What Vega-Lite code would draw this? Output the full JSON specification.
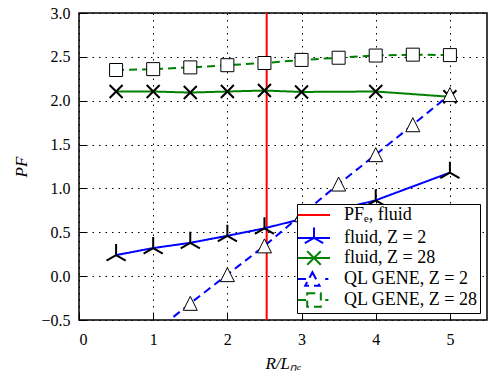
{
  "$schema": "https://vega.github.io/schema/vega-lite/v6.json",
  "width": 408,
  "height": 307,
  "autosize": {"type": "none"},
  "padding": {"left": 79, "top": 13, "right": 2, "bottom": 57},
  "background": "white",
  "config": {
    "font": "Liberation Serif",
    "view": {"stroke": "black", "strokeWidth": 1.5},
    "axis": {
      "labelFont": "Liberation Serif",
      "labelFontSize": 16,
      "labelColor": "black",
      "titleFont": "Liberation Serif",
      "titleFontSize": 17,
      "titleFontWeight": "normal",
      "titleFontStyle": "italic",
      "titleColor": "black",
      "grid": true,
      "gridColor": "black",
      "gridDash": [1.5, 5],
      "gridWidth": 1,
      "domain": false,
      "tickColor": "black",
      "tickSize": -7,
      "tickWidth": 1
    },
    "legend": {
      "labelFont": "Liberation Serif",
      "labelFontSize": 18,
      "labelColor": "black"
    }
  },
  "datasets": {
    "pts": [
      {"series": "PFₑ, fluid", "x": 2.53, "y": null},
      {"series": "fluid, Z = 2", "x": 0.5, "y": 0.24},
      {"series": "fluid, Z = 2", "x": 1.0, "y": 0.32},
      {"series": "fluid, Z = 2", "x": 1.5, "y": 0.38},
      {"series": "fluid, Z = 2", "x": 2.0, "y": 0.46},
      {"series": "fluid, Z = 2", "x": 2.5, "y": 0.545},
      {"series": "fluid, Z = 2", "x": 4.0, "y": 0.865},
      {"series": "fluid, Z = 2", "x": 5.0, "y": 1.18},
      {"series": "fluid, Z = 28", "x": 0.5, "y": 2.105},
      {"series": "fluid, Z = 28", "x": 1.0, "y": 2.105},
      {"series": "fluid, Z = 28", "x": 1.5, "y": 2.093},
      {"series": "fluid, Z = 28", "x": 2.0, "y": 2.105},
      {"series": "fluid, Z = 28", "x": 2.5, "y": 2.116},
      {"series": "fluid, Z = 28", "x": 3.0, "y": 2.1},
      {"series": "fluid, Z = 28", "x": 4.0, "y": 2.105},
      {"series": "fluid, Z = 28", "x": 5.0, "y": 2.045},
      {"series": "QL GENE, Z = 2", "x": 1.0, "y": -0.65},
      {"series": "QL GENE, Z = 2", "x": 1.5, "y": -0.31},
      {"series": "QL GENE, Z = 2", "x": 2.0, "y": 0.017},
      {"series": "QL GENE, Z = 2", "x": 2.5, "y": 0.345},
      {"series": "QL GENE, Z = 2", "x": 3.0, "y": 0.7},
      {"series": "QL GENE, Z = 2", "x": 3.5, "y": 1.05},
      {"series": "QL GENE, Z = 2", "x": 4.0, "y": 1.385},
      {"series": "QL GENE, Z = 2", "x": 4.5, "y": 1.726},
      {"series": "QL GENE, Z = 2", "x": 5.0, "y": 2.07},
      {"series": "QL GENE, Z = 28", "x": 0.5, "y": 2.35},
      {"series": "QL GENE, Z = 28", "x": 1.0, "y": 2.36},
      {"series": "QL GENE, Z = 28", "x": 1.5, "y": 2.38},
      {"series": "QL GENE, Z = 28", "x": 2.0, "y": 2.405},
      {"series": "QL GENE, Z = 28", "x": 2.5, "y": 2.43},
      {"series": "QL GENE, Z = 28", "x": 3.0, "y": 2.465},
      {"series": "QL GENE, Z = 28", "x": 3.5, "y": 2.49},
      {"series": "QL GENE, Z = 28", "x": 4.0, "y": 2.515},
      {"series": "QL GENE, Z = 28", "x": 4.5, "y": 2.525},
      {"series": "QL GENE, Z = 28", "x": 5.0, "y": 2.52}
    ]
  },
  "data": {"name": "pts"},
  "encoding": {
    "x": {
      "field": "x",
      "type": "quantitative",
      "scale": {"domain": [0, 5.5], "nice": false, "zero": false},
      "axis": {"values": [0, 1, 2, 3, 4, 5], "format": "d", "labelPadding": 18, "titlePadding": 8, "title": "R/Lₙₑ", "labelFont": "Liberation Serif"}
    },
    "y": {
      "field": "y",
      "type": "quantitative",
      "scale": {"domain": [-0.5, 3.0], "nice": false, "zero": false},
      "axis": {"values": [-0.5, 0, 0.5, 1, 1.5, 2, 2.5, 3], "format": ".1f", "labelPadding": 16, "titlePadding": 10, "title": "PF", "labelFont": "Liberation Serif"}
    }
  },
  "layer": [
    {
      "transform": [{"filter": "datum.series === 'PFₑ, fluid'"}],
      "mark": {"type": "rule", "color": "#ff0000", "strokeWidth": 2},
      "encoding": {"x": {"field": "x", "type": "quantitative"}, "y": null}
    },
    {
      "transform": [{"filter": "datum.series !== 'PFₑ, fluid'"}],
      "mark": {"type": "line", "strokeWidth": 2, "clip": true},
      "encoding": {
        "color": {
          "field": "series", "type": "nominal",
          "scale": {
            "domain": ["PFₑ, fluid", "fluid, Z = 2", "fluid, Z = 28", "QL GENE, Z = 2", "QL GENE, Z = 28"],
            "range": ["#ff0000", "#0000ff", "#008000", "#0000ff", "#008000"]
          }
        },
        "strokeDash": {
          "field": "series", "type": "nominal",
          "scale": {
            "domain": ["PFₑ, fluid", "fluid, Z = 2", "fluid, Z = 28", "QL GENE, Z = 2", "QL GENE, Z = 28"],
            "range": [[1, 0], [1, 0], [1, 0], [8, 5], [8, 5]]
          },
          "legend": null
        }
      }
    },
    {
      "transform": [{"filter": "datum.series === 'fluid, Z = 2'"}],
      "mark": {"type": "point", "shape": "M0,0V-1M0,0L-0.87,0.5M0,0L0.87,0.5", "size": 484, "filled": false, "stroke": "black", "strokeWidth": 2, "opacity": 1, "clip": true}
    },
    {
      "transform": [{"filter": "datum.series === 'fluid, Z = 28'"}],
      "mark": {"type": "point", "shape": "M-1,-1L1,1M-1,1L1,-1", "size": 169, "filled": false, "stroke": "black", "strokeWidth": 2, "opacity": 1, "clip": true}
    },
    {
      "transform": [{"filter": "datum.series === 'QL GENE, Z = 2'"}],
      "mark": {"type": "point", "shape": "M0,-1L1,1L-1,1Z", "size": 196, "filled": true, "fill": "white", "stroke": "black", "strokeWidth": 1, "opacity": 1, "clip": true}
    },
    {
      "transform": [{"filter": "datum.series === 'QL GENE, Z = 28'"}],
      "mark": {"type": "point", "shape": "M-1,-1H1V1H-1Z", "size": 169, "filled": true, "fill": "white", "stroke": "black", "strokeWidth": 1, "opacity": 1, "clip": true}
    },
    {
      "mark": {"type": "point", "filled": false, "strokeWidth": 2, "opacity": 0, "clip": true},
      "encoding": {
        "color": {
          "field": "series", "type": "nominal",
          "legend": {
            "title": null, "orient": "bottom-right", "offset": 7,
            "fillColor": "white", "strokeColor": "black", "padding": 2,
            "symbolSize": 256, "symbolStrokeWidth": 2, "symbolOffset": 6, "labelOffset": 21,
            "rowPadding": -1,
            "encode": {
              "legend": {"update": {"strokeWidth": {"value": 2}}},
              "symbols": {"update": {"opacity": {"value": 1}, "strokeDash": {"value": [1, 0]}}}
            }
          }
        },
        "shape": {
          "field": "series", "type": "nominal",
          "scale": {
            "domain": ["PFₑ, fluid", "fluid, Z = 2", "fluid, Z = 28", "QL GENE, Z = 2", "QL GENE, Z = 28"],
            "range": [
              "M-2,0H2",
              "M-2,0H2M0,0V-1.3M0,0L-1.15,0.65M0,0L1.15,0.65",
              "M-2,0H2M-0.85,-0.85L0.85,0.85M-0.85,0.85L0.85,-0.85",
              "M-2,0H-0.95M1.4,0H1.8M-0.2,-0.85L0.7,0.85L-1.1,0.85Z",
              "M-2,0H-1M1.4,0H1.8M-0.85,-0.85H0.85V0.85H-0.85Z"
            ]
          },
          "legend": {
            "title": null, "orient": "bottom-right", "offset": 7,
            "fillColor": "white", "strokeColor": "black", "padding": 2,
            "symbolSize": 256, "symbolStrokeWidth": 2, "symbolOffset": 6, "labelOffset": 21,
            "rowPadding": -1,
            "encode": {
              "legend": {"update": {"strokeWidth": {"value": 2}}},
              "symbols": {"update": {"opacity": {"value": 1}, "strokeDash": {"value": [1, 0]}}}
            }
          }
        }
      }
    }
  ]
}
